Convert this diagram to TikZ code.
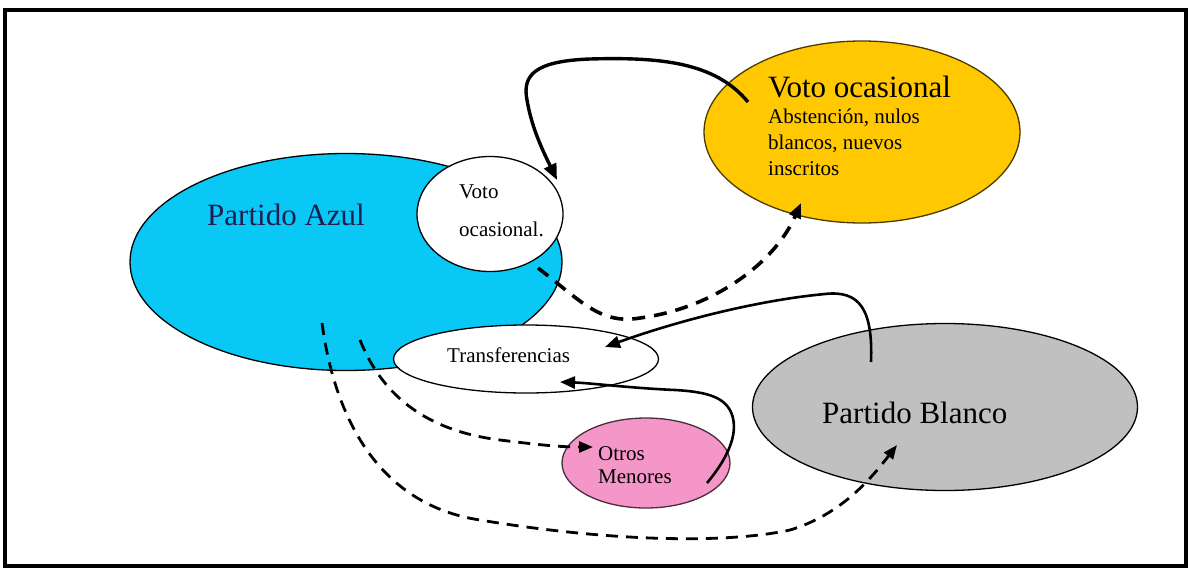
\documentclass[tikz,border=0pt]{standalone}
\usepackage{fontspec}
\setmainfont{Liberation Serif}
\usetikzlibrary{shapes.geometric,arrows.meta}
\definecolor{azul}{RGB}{10,200,245}
\definecolor{amarillo}{RGB}{255,200,0}
\definecolor{gris}{RGB}{192,192,192}
\definecolor{rosa}{RGB}{245,150,200}
\definecolor{navy}{RGB}{30,30,80}
\tikzset{
  blob/.style={ellipse, draw=black, line width=1.3pt, inner sep=0pt},
  bigtxt/.style={anchor=base west, inner sep=0pt, font=\fontsize{31}{34}\selectfont},
  smalltxt/.style={anchor=base west, inner sep=0pt, font=\fontsize{21}{24}\selectfont},
  solidarrow/.style={line width=2.6pt, -{Triangle[length=15pt,width=12pt]}},
  thickarrow/.style={line width=3.4pt, -{Triangle[length=16pt,width=13pt]}},
  dasharrow/.style={line width=3.6pt, dash pattern=on 13pt off 9pt, -{Triangle[length=15pt,width=12pt]}},
  thindash/.style={line width=2.8pt, dash pattern=on 12pt off 8pt, -{Triangle[length=14pt,width=11pt]}}
}
\begin{document}
\begin{tikzpicture}[x=1pt,y=-1pt]
\useasboundingbox (0,0) rectangle (1191,573);
\fill[white] (0,0) rectangle (1191,573);
\draw[line width=4pt] (5,10) rectangle (1186,566);

% ellipses
\node[blob, fill=azul, minimum width=432pt, minimum height=217pt] (azul) at (346,262) {};
\node[blob, fill=white, minimum width=146pt, minimum height=115pt] (vocas) at (490,214) {};
\node[blob, fill=amarillo, draw=black!70!amarillo, minimum width=316pt, minimum height=182pt] (voto) at (862,132) {};
\node[blob, fill=white, minimum width=265pt, minimum height=68pt] (transf) at (526,359) {};
\node[blob, fill=rosa, draw=black!70!rosa, minimum width=168pt, minimum height=90pt] (otros) at (646,463) {};
\node[blob, fill=gris, minimum width=385pt, minimum height=167pt] (blanco) at (945,407) {};

% texts
\node[bigtxt, text=navy] (tazul) at (207,225) {Partido Azul};
\node[bigtxt] (tvoto) at (768,97) {Voto ocasional};
\node[smalltxt] (tabs1) at (768,123) {Abstención, nulos};
\node[smalltxt] (tabs2) at (768,149) {blancos, nuevos};
\node[smalltxt] (tabs3) at (768,175) {inscritos};
\node[smalltxt] (tv1) at (459,198) {Voto};
\node[smalltxt] (tv2) at (459,236) {ocasional.};
\node[smalltxt] (ttr) at (447,362) {Transferencias};
\node[smalltxt] (to1) at (598,460) {Otros};
\node[smalltxt] (to2) at (598,483) {Menores};
\node[bigtxt] (tbl) at (822,423) {Partido Blanco};

% connector ends
\coordinate (a1s) at (748,102);
\coordinate (a1e) at (557,180);
\coordinate (a2s) at (538,268);
\coordinate (a2e) at (801,203);
\coordinate (a3s) at (871,362);
\coordinate (a3e) at (605,347);
\coordinate (a4s) at (707,483);
\coordinate (a4e) at (560,382);
\coordinate (a5s) at (360,340);
\coordinate (a5e) at (593,447);
\coordinate (a6s) at (322,323);
\coordinate (a6e) at (897,445);

% connectors
\draw[thickarrow] (a1s) .. controls (715,62) and (660,57) .. (590,59)
  .. controls (535,61) and (522,75) .. (527,100)
  .. controls (532,130) and (545,155) .. (a1e);
\draw[dasharrow] (a2s) .. controls (580,300) and (600,325) .. (640,318)
  .. controls (715,308) and (775,262) .. (a2e);
\draw[solidarrow] (a3s) .. controls (873,310) and (860,290) .. (825,294)
  .. controls (760,300) and (680,320) .. (a3e);
\draw[solidarrow] (a4s) .. controls (722,465) and (738,440) .. (733,418)
  .. controls (728,398) and (710,392) .. (675,390)
  .. controls (630,388) and (590,383) .. (a4e);
\draw[thindash] (a5s) .. controls (380,390) and (420,430) .. (500,440)
  .. controls (540,445) and (560,447) .. (a5e);
\draw[thindash] (a6s) .. controls (335,420) and (380,505) .. (480,520)
  .. controls (600,540) and (720,545) .. (790,530)
  .. controls (840,515) and (870,480) .. (a6e);
\end{tikzpicture}
\end{document}
